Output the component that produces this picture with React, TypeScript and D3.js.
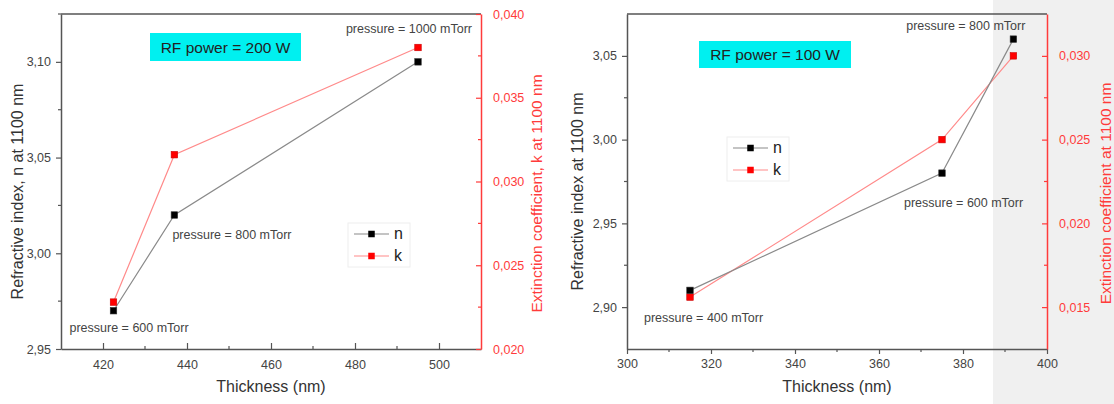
import { useRef, useEffect } from 'react'
import * as d3 from 'd3'

// RF power = 200 W
const thick200 = [422.5, 437, 495]
const n200 = [2.97, 3.02, 3.1]
const k200 = [0.0228, 0.0316, 0.038]
const press200 = ['pressure = 600 mTorr', 'pressure = 800 mTorr', 'pressure = 1000 mTorr']

// RF power = 100 W
const thick100 = [315, 375, 392]
const n100 = [2.91, 2.98, 3.06]
const k100 = [0.0156, 0.025, 0.03]
const press100 = ['pressure = 400 mTorr', 'pressure = 600 mTorr', 'pressure = 800 mTorr']

const xTicks200 = [420, 440, 460, 480, 500]
const nTicks200 = [2.95, 3.0, 3.05, 3.1]
const kTicks200 = [0.02, 0.025, 0.03, 0.035, 0.04]
const xTicks100 = [300, 320, 340, 360, 380, 400]
const nTicks100 = [2.9, 2.95, 3.0, 3.05]
const kTicks100 = [0.015, 0.02, 0.025, 0.03]

const FONT = 'Liberation Sans, Arial, sans-serif'
const AXIS = '#555'
const TXT = '#444'
const RED = '#ff3b3b'

const comma = (f: string) => (v: number) => d3.format(f)(v).replace('.', ',')

type PanelProps = {
  thick: number[]
  n: number[]
  k: number[]
  press: string[]
  xDomain: [number, number]
  nDomain: [number, number]
  kDomain: [number, number]
  xTicks: number[]
  nTicks: number[]
  kTicks: number[]
  left: number
  right: number
  title: string
  titleBox: { x: number; y: number; w: number; h: number }
  legend: { x: number; y: number }
  nLabel: string
  kLabel: string
  nLabelX: number
  kLabelX: number
  bottomIn: boolean
  annot: { dx: number; dy: number; anchor: string }[]
}

function Panel(p: PanelProps) {
  const ref = useRef<SVGGElement>(null)

  useEffect(() => {
    if (!ref.current) return
    const top = 14
    const bottom = 349
    const g = d3.select(ref.current)
    g.selectAll('*').remove()

    const x = d3.scaleLinear().domain(p.xDomain).range([p.left, p.right])
    const yN = d3.scaleLinear().domain(p.nDomain).range([bottom, top])
    const yK = d3.scaleLinear().domain(p.kDomain).range([bottom, top])

    // frame top
    g.append('line')
      .attr('x1', p.left).attr('x2', p.right).attr('y1', top).attr('y2', top)
      .attr('stroke', AXIS).attr('stroke-width', 1.5)

    const styleAxis = (sel: any, color: string, txt: string) => {
      sel.select('.domain').attr('stroke', color).attr('stroke-width', 1.5)
      sel.selectAll('.tick line').attr('stroke', color).attr('stroke-width', 1.2)
      sel.selectAll('text').attr('fill', txt).attr('font-size', 12.5).attr('font-family', FONT)
    }

    const minor = (ticks: number[]) => {
      const step = ticks[1] - ticks[0]
      return ticks.slice(0, -1).map((t) => t + step / 2)
    }

    // bottom axis
    const bIn = p.bottomIn
    const bx = g.append('g').attr('transform', `translate(0,${bottom})`)
    bx.call(
      d3.axisBottom(x).tickValues(p.xTicks).tickSizeInner(bIn ? -6 : 5).tickSizeOuter(0).tickPadding(bIn ? 11 : 5)
        .tickFormat((d: any) => String(d))
    )
    styleAxis(bx, AXIS, TXT)
    bx.selectAll('.tick text').attr('dy', '0.71em')
    const xm = minor(p.xTicks.concat([p.xTicks[p.xTicks.length - 1] + (p.xTicks[1] - p.xTicks[0])]))
      .concat([p.xTicks[0] - (p.xTicks[1] - p.xTicks[0]) / 2])
      .filter((v) => v > p.xDomain[0] && v < p.xDomain[1])
    bx.selectAll('.mn').data(xm).join('line')
      .attr('x1', (d) => x(d)).attr('x2', (d) => x(d))
      .attr('y1', 0).attr('y2', bIn ? -3 : 3)
      .attr('stroke', AXIS).attr('stroke-width', 1.2)

    // left axis
    const ly = g.append('g').attr('transform', `translate(${p.left},0)`)
    ly.call(d3.axisLeft(yN).tickValues(p.nTicks).tickSize(5).tickSizeOuter(0).tickPadding(5).tickFormat(comma('.2f') as any))
    styleAxis(ly, AXIS, TXT)
    const step = p.nTicks[1] - p.nTicks[0]
    const nm = d3.range(p.nTicks[0] - step / 2, p.nDomain[1], step).filter((v) => v > p.nDomain[0] && v < p.nDomain[1])
    ly.selectAll('.mn').data(nm).join('line')
      .attr('x1', 0).attr('x2', -3).attr('y1', (d) => yN(d)).attr('y2', (d) => yN(d))
      .attr('stroke', AXIS).attr('stroke-width', 1.2)

    // right axis
    const ry = g.append('g').attr('transform', `translate(${p.right},0)`)
    ry.call(d3.axisRight(yK).tickValues(p.kTicks).tickSize(-5).tickSizeOuter(0).tickPadding(12).tickFormat(comma('.3f') as any))
    styleAxis(ry, RED, RED)
    const kStep = p.kTicks[1] - p.kTicks[0]
    const km = d3.range(p.kTicks[0] - kStep / 2, p.kDomain[1], kStep).filter((v) => v > p.kDomain[0] && v < p.kDomain[1])
    ry.selectAll('.mn').data(km).join('line')
      .attr('x1', 0).attr('x2', -3).attr('y1', (d) => yK(d)).attr('y2', (d) => yK(d))
      .attr('stroke', RED).attr('stroke-width', 1.2)

    // axis titles
    g.append('text')
      .attr('transform', `translate(${(p.left + p.right) / 2},392)`)
      .attr('text-anchor', 'middle').attr('font-size', 16).attr('font-family', FONT).attr('fill', '#333')
      .text('Thickness (nm)')
    g.append('text')
      .attr('transform', `translate(${p.nLabelX},${(top + bottom) / 2 + 10}) rotate(-90)`)
      .attr('text-anchor', 'middle').attr('font-size', 16).attr('font-family', FONT).attr('fill', '#333')
      .text(p.nLabel)
    g.append('text')
      .attr('transform', `translate(${p.kLabelX},${(top + bottom) / 2 + 12}) rotate(-90)`)
      .attr('text-anchor', 'middle').attr('font-size', 15.5).attr('font-family', FONT).attr('fill', RED)
      .text(p.kLabel)

    // title box
    g.append('rect')
      .attr('x', p.titleBox.x).attr('y', p.titleBox.y).attr('width', p.titleBox.w).attr('height', p.titleBox.h)
      .attr('fill', '#00f0f0')
    g.append('text')
      .attr('x', p.titleBox.x + p.titleBox.w / 2).attr('y', p.titleBox.y + p.titleBox.h / 2 + 5.5)
      .attr('text-anchor', 'middle').attr('font-size', 15.5).attr('font-family', FONT).attr('fill', '#222')
      .text(p.title)

    const idx = d3.range(p.thick.length)

    // lines
    const lineN = d3.line<number>().x((i) => x(p.thick[i])).y((i) => yN(p.n[i]))
    const lineK = d3.line<number>().x((i) => x(p.thick[i])).y((i) => yK(p.k[i]))
    g.append('path').attr('d', lineK(idx)).attr('fill', 'none').attr('stroke', '#ff8a8a').attr('stroke-width', 1.2)
    g.append('path').attr('d', lineN(idx)).attr('fill', 'none').attr('stroke', '#8a8a8a').attr('stroke-width', 1.2)

    // markers
    const s = 6.5
    g.selectAll('.mk').data(idx).join('rect')
      .attr('x', (i) => x(p.thick[i]) - s / 2).attr('y', (i) => yK(p.k[i]) - s / 2)
      .attr('width', s).attr('height', s).attr('fill', '#ff0000').attr('stroke', '#c00').attr('stroke-width', 0.6)
    g.selectAll('.mn2').data(idx).join('rect')
      .attr('x', (i) => x(p.thick[i]) - s / 2).attr('y', (i) => yN(p.n[i]) - s / 2)
      .attr('width', s).attr('height', s).attr('fill', '#000').attr('stroke', '#333').attr('stroke-width', 0.6)

    // pressure annotations
    g.selectAll('.an').data(idx).join('text')
      .attr('x', (i) => x(p.thick[i]) + p.annot[i].dx)
      .attr('y', (i) => yN(p.n[i]) + p.annot[i].dy)
      .attr('text-anchor', (i) => p.annot[i].anchor)
      .attr('font-size', 12.5).attr('font-family', FONT).attr('fill', TXT)
      .text((i) => p.press[i])

    // legend
    const lg = g.append('g').attr('transform', `translate(${p.legend.x},${p.legend.y})`)
    lg.append('rect').attr('width', 62).attr('height', 44).attr('fill', 'none').attr('stroke', '#eee')
    const items = [
      { name: 'n', line: '#8a8a8a', fill: '#000' },
      { name: 'k', line: '#ff8a8a', fill: '#ff0000' },
    ]
    items.forEach((it, i) => {
      const yy = 11 + i * 22
      lg.append('line').attr('x1', 6).attr('x2', 41).attr('y1', yy).attr('y2', yy)
        .attr('stroke', it.line).attr('stroke-width', 1.2)
      lg.append('rect').attr('x', 23.5 - s / 2).attr('y', yy - s / 2).attr('width', s).attr('height', s).attr('fill', it.fill)
      lg.append('text').attr('x', 46).attr('y', yy + 5).attr('font-size', 16).attr('font-family', FONT).attr('fill', '#222')
        .text(it.name)
    })
  }, [p])

  return <g ref={ref} />
}

export default function App() {
  return (
    <svg width={1114} height={404} style={{ position: 'absolute', left: 0, top: 0, background: '#fff' }}>
      <rect x={993} y={0} width={121} height={404} fill="#f0f0f0" />
      <Panel
        thick={thick200} n={n200} k={k200} press={press200}
        xDomain={[410, 510]} nDomain={[2.95, 3.125]} kDomain={[0.02, 0.04]}
        xTicks={xTicks200} nTicks={nTicks200} kTicks={kTicks200}
        left={61} right={481}
        title="RF power = 200 W" titleBox={{ x: 150, y: 33, w: 151, h: 28 }}
        legend={{ x: 348, y: 223 }}
        nLabel="Refractive index, n at 1100 nm" kLabel="Extinction coefficient, k at 1100 nm"
        nLabelX={23} kLabelX={542}
        bottomIn={true}
        annot={[
          { dx: -44, dy: 21, anchor: 'start' },
          { dx: -2, dy: 24, anchor: 'start' },
          { dx: 54, dy: -29, anchor: 'end' },
        ]}
      />
      <Panel
        thick={thick100} n={n100} k={k100} press={press100}
        xDomain={[300, 400]} nDomain={[2.875, 3.075]} kDomain={[0.0125, 0.0325]}
        xTicks={xTicks100} nTicks={nTicks100} kTicks={kTicks100}
        left={627} right={1047}
        title="RF power = 100 W" titleBox={{ x: 699, y: 41, w: 152, h: 27 }}
        legend={{ x: 727, y: 137 }}
        nLabel="Refractive index at 1100 nm" kLabel="Extinction coefficient at 1100 nm"
        nLabelX={583} kLabelX={1111}
        bottomIn={false}
        annot={[
          { dx: -46, dy: 32, anchor: 'start' },
          { dx: -38, dy: 34, anchor: 'start' },
          { dx: 12, dy: -9, anchor: 'end' },
        ]}
      />
    </svg>
  )
}
